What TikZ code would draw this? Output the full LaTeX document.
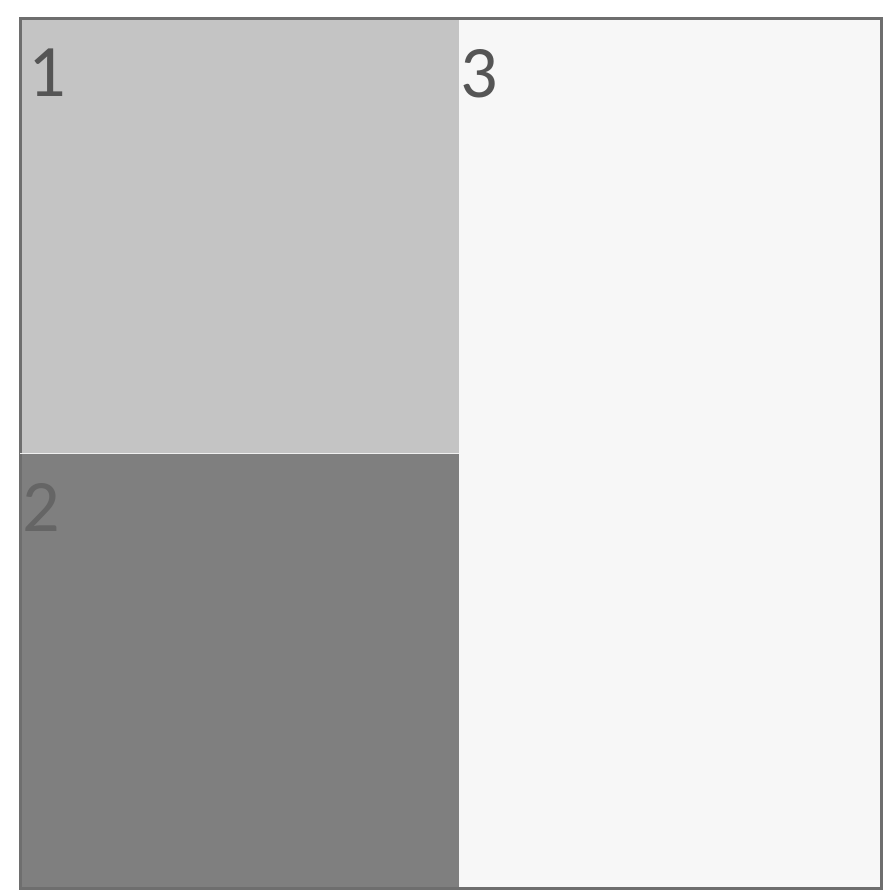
\documentclass[tikz,border=0pt]{standalone}
\usepackage{fontspec}
\setmainfont{Carlito}
\usepackage{xcolor}
\usetikzlibrary{calc}
\definecolor{cellA}{HTML}{C4C4C4}
\definecolor{cellB}{HTML}{7F7F7F}
\definecolor{cellC}{HTML}{F7F7F7}
\definecolor{frameC}{HTML}{6E6E6E}
\definecolor{numC}{HTML}{555555}

\begin{document}
\begin{tikzpicture}[x=1pt,y=-1pt,cell/.style={draw=none,inner sep=0pt,anchor=north west},num/.style={anchor=north west,inner sep=0pt,font=\fontsize{74}{74}\selectfont,text=numC}]
\useasboundingbox (0,0) rectangle (888,890);
\node[cell,fill=cellA,minimum width=439pt,minimum height=434pt] (one) at (20,19) {};
\node[cell,fill=cellB,minimum width=439pt,minimum height=435pt] (two) at (20,453) {};
\node[cell,fill=cellC,minimum width=422pt,minimum height=869pt] (three) at (459,19) {};
\node[num] (n1) at ($(one.north west)+(8,30)$) {1};
\node[num,text=cellB!80!black] (n2) at ($(two.north west)+(2,30)$) {2};
\node[num] (n3) at ($(three.north west)+(1,30)$) {3};
\draw[frameC,line width=3pt] (one.north west) rectangle (three.south east);
\draw[white!75!cellA,line width=1pt] (one.south west) -- (one.south east);
\end{tikzpicture}
\end{document}
